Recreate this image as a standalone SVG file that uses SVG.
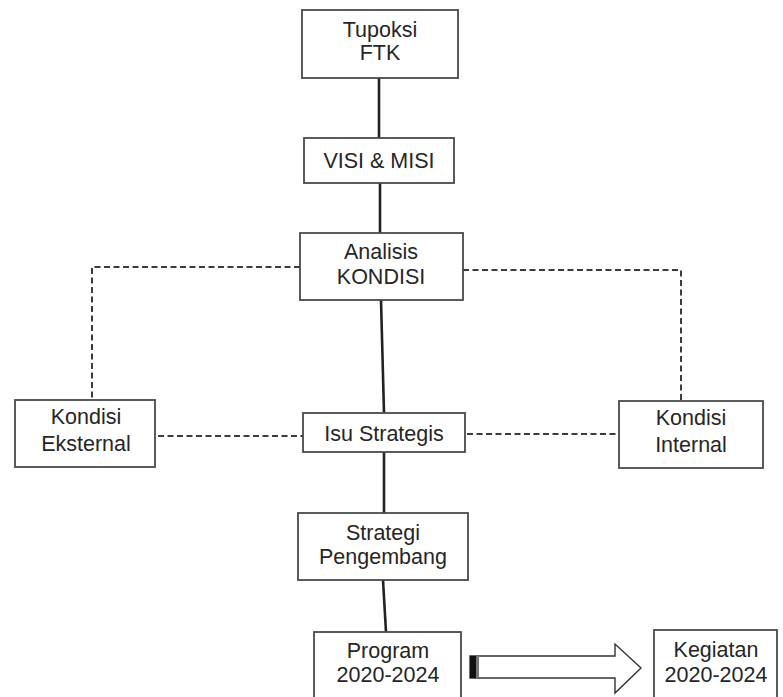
<svg xmlns="http://www.w3.org/2000/svg" width="783" height="697" viewBox="0 0 783 697">
<style>
.box{fill:#fff;stroke:#4a4a4a;stroke-width:1.8}
.t{font-family:"Liberation Sans",Arial,sans-serif;font-size:21.5px;fill:#262626;text-anchor:middle}
.solid{stroke:#222;stroke-width:2.6;fill:none}
.dash{stroke:#3c3c3c;stroke-width:2;fill:none;stroke-dasharray:6 3.5}
</style>
<rect width="783" height="697" fill="#fff"/>
<g id="connectors">
<line class="solid" x1="379" y1="78" x2="379" y2="138"/>
<line class="solid" x1="380" y1="183" x2="380" y2="233"/>
<line class="solid" x1="381" y1="300" x2="384" y2="413"/>
<line class="solid" x1="384" y1="452" x2="384" y2="513"/>
<line class="solid" x1="383" y1="580" x2="386" y2="632"/>
<polyline class="dash" points="300,267 92,267 92,400"/>
<polyline class="dash" points="463,270 681,270 681,401"/>
<line class="dash" x1="158" y1="436" x2="303" y2="436"/>
<line class="dash" x1="467" y1="434" x2="619" y2="434"/>
<g id="block-arrow">
<polygon points="470,656 615,656 615,644 641,668 615,693 615,678 470,678" fill="#fff" stroke="#333" stroke-width="1.4"/>
<rect x="470" y="656" width="6" height="22" fill="#111"/>
<rect x="476" y="656" width="3" height="22" fill="#777"/>
</g>
</g>
<g id="tupoksi">
<rect class="box" x="302" y="10" width="156" height="68"/>
<text class="t" x="380" y="37">Tupoksi</text>
<text class="t" x="380" y="60">FTK</text>
</g>
<g id="visi-misi">
<rect class="box" x="304" y="138" width="150" height="45"/>
<text class="t" x="379" y="168">VISI &amp; MISI</text>
</g>
<g id="analisis">
<rect class="box" x="300" y="233" width="163" height="67"/>
<text class="t" x="381" y="259">Analisis</text>
<text class="t" x="381" y="284">KONDISI</text>
</g>
<g id="kondisi-eksternal">
<rect class="box" x="15" y="400" width="140" height="67"/>
<text class="t" x="86" y="424">Kondisi</text>
<text class="t" x="86" y="451">Eksternal</text>
</g>
<g id="isu-strategis">
<rect class="box" x="303" y="413" width="162" height="39"/>
<text class="t" x="384" y="441">Isu Strategis</text>
</g>
<g id="kondisi-internal">
<rect class="box" x="619" y="401" width="144" height="67"/>
<text class="t" x="691" y="425">Kondisi</text>
<text class="t" x="691" y="452">Internal</text>
</g>
<g id="strategi">
<rect class="box" x="298" y="513" width="170" height="67"/>
<text class="t" x="383" y="540">Strategi</text>
<text class="t" x="383" y="564">Pengembang</text>
</g>
<g id="program">
<rect class="box" x="314" y="632" width="147" height="70"/>
<text class="t" x="388" y="658">Program</text>
<text class="t" x="388" y="682">2020-2024</text>
</g>
<g id="kegiatan">
<rect class="box" x="654" y="630" width="123" height="72"/>
<text class="t" x="716" y="657">Kegiatan</text>
<text class="t" x="716" y="682">2020-2024</text>
</g>
</svg>
